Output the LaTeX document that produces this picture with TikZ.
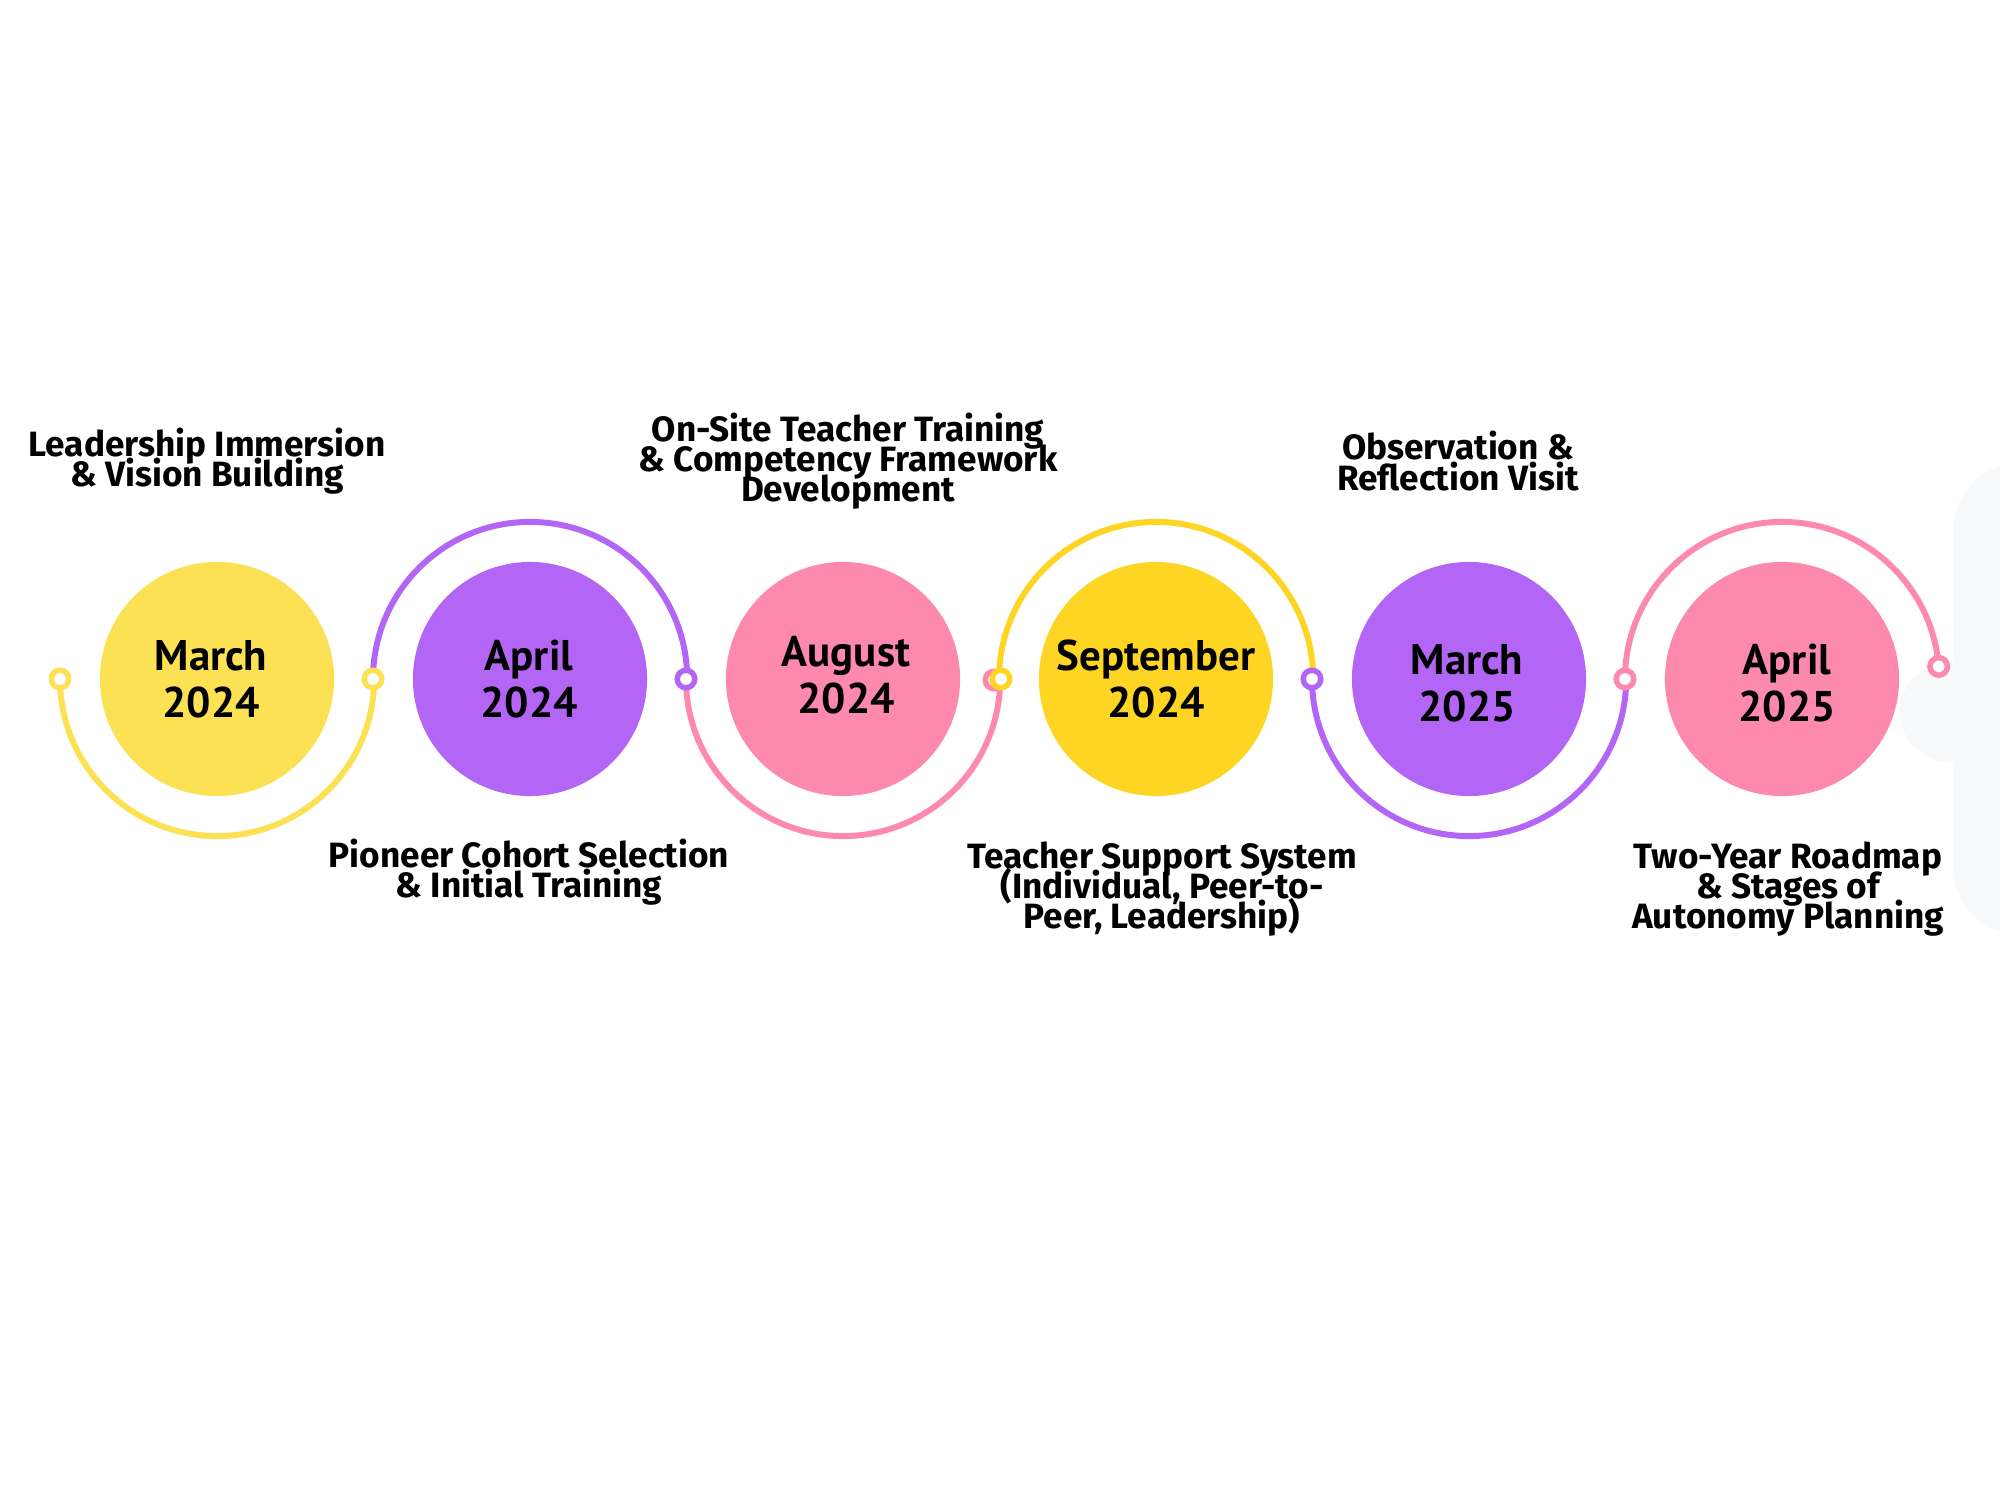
\documentclass[tikz,border=0pt]{standalone}
\usepackage{fontspec}
\setmainfont{Fira Sans}
\newfontfamily\datefont{PT Sans}
\newcommand\mytightlines{\lineskiplimit=-20pt\relax\lineskip=0pt\relax}
\definecolor{cYel}{HTML}{FDE155}
\definecolor{cGold}{HTML}{FFD523}
\definecolor{cPur}{HTML}{B366F6}
\definecolor{cPink}{HTML}{FD8AAE}
\definecolor{cGray}{HTML}{F8F9FB}
\tikzset{
  datecirc/.style={circle, minimum size=2.34cm, inner sep=0pt, align=center,
    font=\datefont\bfseries\fontsize{12.2}{13.4}\selectfont},
  marker/.style={circle, fill=white, line width=1.56pt, minimum size=0.175cm, inner sep=0pt},
  link/.style={line width=1.7pt},
  lbl/.style={align=center, inner sep=0pt,
    font=\bfseries\fontsize{10}{8.6}\selectfont\mytightlines},
}
\begin{document}
\begin{tikzpicture}[x=0.01cm,y=0.01cm]
\useasboundingbox (0,0) rectangle (2000,-1500);
\fill[white] (0,0) rectangle (2000,-1500);
\clip (0,0) rectangle (2000,-1500);
% grey shape at right edge
\fill[cGray, rounded corners=0.7cm] (1953,-462) rectangle (2150,-936);
\fill[cGray] (1950,-712) circle[radius=0.5cm];
% circles
\node[datecirc, fill=cYel]  (c1) at (217,-679) {};
\node[datecirc, fill=cPur]  (c2) at (530,-679) {};
\node[datecirc, fill=cPink] (c3) at (843,-679) {};
\node[datecirc, fill=cGold] (c4) at (1156,-679) {};
\node[datecirc, fill=cPur]  (c5) at (1469,-679) {};
\node[datecirc, fill=cPink] (c6) at (1782,-679) {};
\node[datecirc] (t1) at (211,-679) {March\\2024};
\node[datecirc] (t2) at (529,-679) {April\\2024};
\node[datecirc] (t3) at (846,-675) {August\\2024};
\node[datecirc] (t4) at (1156,-679) {September\\2024};
\node[datecirc] (t5) at (1467,-683) {March\\2025};
\node[datecirc] (t6) at (1787,-683) {April\\2025};
% junction points
\coordinate (p0) at (60,-679);
\coordinate (p1) at (373,-679);
\coordinate (p2) at (686,-679);
\coordinate (p3) at (999,-679);
\coordinate (p4) at (1312,-679);
\coordinate (p5) at (1625,-679);
% arcs
\draw[link, cYel]  (p0) arc[start angle=180, end angle=360, radius=1.57cm];
\draw[link, cPur]  (p1) arc[start angle=180, end angle=0, radius=1.57cm];
\draw[link, cPink] (p2) arc[start angle=180, end angle=360, radius=1.57cm];
\draw[link, cGold] (p3) arc[start angle=180, end angle=0, radius=1.57cm];
\draw[link, cPur]  (p4) arc[start angle=180, end angle=360, radius=1.57cm];
\draw[link, cPink] (p5) arc[start angle=180, end angle=4.6, radius=1.57cm] coordinate (p6);
% markers
\node[marker, draw=cYel]  (m0) at (p0) {};
\node[marker, draw=cYel]  (m1) at (p1) {};
\node[marker, draw=cPur]  (m2) at (p2) {};
\node[marker, draw=cPink] (m3b) at ([xshift=-0.05cm,yshift=-0.01cm]p3) {};
\node[marker, draw=cGold] (m3) at ([xshift=0.02cm]p3) {};
\node[marker, draw=cPur]  (m4) at (p4) {};
\node[marker, draw=cPink] (m5) at (p5) {};
\node[marker, draw=cPink] (m6) at (p6) {};
% labels
\node[lbl] (l1) at (207,-461) {Leadership Immersion\\\& Vision Building};
\node[lbl] (l3) at (848,-461) {On-Site Teacher Training\\\& Competency Framework\\Development};
\node[lbl] (l5) at (1458,-461) {Observation \&\\Reflection Visit};
\node[lbl] (l2) at (529,-872) {Pioneer Cohort Selection\\\& Initial Training};
\node[lbl] (l4) at (1162,-889) {Teacher Support System\\(Individual, Peer-to-\\Peer, Leadership)};
\node[lbl] (l6) at (1788,-889) {Two-Year Roadmap\\\& Stages of\\Autonomy Planning};
\end{tikzpicture}
\end{document}
